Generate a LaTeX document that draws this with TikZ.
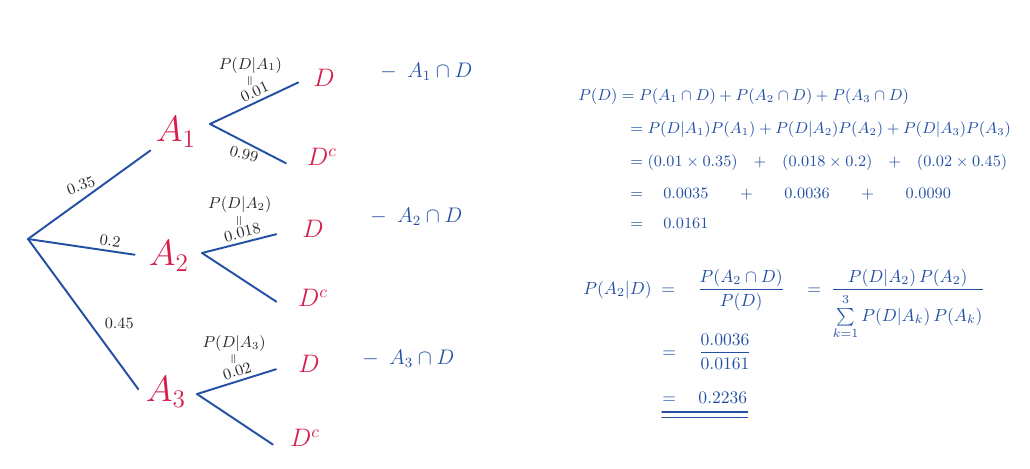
\documentclass[tikz,border=0pt]{standalone}
\usepackage{amsmath, amssymb}
\usetikzlibrary{positioning}

\definecolor{inkblue}{RGB}{35,80,165}
\definecolor{inkred}{RGB}{215,30,75}
\definecolor{inkgrey}{RGB}{40,40,40}

\begin{document}
\begin{tikzpicture}[
        x=0.02cm, y=-0.02cm,
        event/.style={text=inkred, font=\huge, inner sep=3pt},
        outcome/.style={text=inkred, font=\Large, inner sep=3pt},
        branch/.style={draw=inkblue, line width=1.1pt, line cap=round},
        prob/.style={text=inkgrey, font=\small, inner sep=2pt},
        vequal/.style={text=inkgrey, font=\scriptsize, inner sep=2pt},
        inter/.style={text=inkblue, font=\large, anchor=west, inner sep=0pt},
        eqn/.style={text=inkblue, font=\small, anchor=west, inner sep=0pt},
        bayes/.style={text=inkblue, font=\normalsize, anchor=base west, inner sep=0pt}
    ]
    \useasboundingbox (0,0) rectangle (1030,468);

    % First stage
    \coordinate (root) at (28,239);
    \node[event] (A1) at (176,132) {$A_1$};
    \node[event] (A2) at (169,256) {$A_2$};
    \node[event] (A3) at (166,392) {$A_3$};

    % Second stage
    \coordinate (f1) at (210,124);
    \coordinate (f2) at (202,253);
    \coordinate (f3) at (197,394);
    \node[outcome] (D11) at (324,78)  {$D$};
    \node[outcome] (D12) at (322,157) {$D^c$};
    \node[outcome] (D21) at (313,229) {$D$};
    \node[outcome] (D22) at (313,298) {$D^c$};
    \node[outcome] (D31) at (309,364) {$D$};
    \node[outcome] (D32) at (305,438) {$D^c$};

    % Branches
    \draw[branch] (root) -- (A1) node[prob, pos=0.46, above=2pt, rotate=20] {0.35};
    \draw[branch, shorten >=5pt] (root) -- (A2.west) node[prob, pos=0.7, above, sloped] {0.2};
    \draw[branch, shorten >=2pt] (root) -- (A3.west) node[prob, pos=0.55, right=6pt] {0.45};

    \draw[branch, shorten >=6pt] (f1) -- (D11.west) node[prob, pos=0.5, above, sloped] (v1) {0.01};
    \draw[branch, shorten >=10pt] (f1) -- (D12.south west) node[prob, pos=0.4, below=1pt, rotate=-15] {0.99};
    \draw[branch, shorten >=12pt] (f2) -- (D21.west) node[prob, pos=0.45, above, sloped] (v2) {0.018};
    \draw[branch, shorten >=11pt] (f2) -- (D22.south west);
    \draw[branch, shorten >=10pt] (f3) -- (D31.west) node[prob, pos=0.45, above, sloped] (v3) {0.02};
    \draw[branch, shorten >=8pt] (f3) -- (D32.south west);

    % Conditional probabilities
    \node[vequal, above=-4pt of v1] (e1) {\rotatebox{90}{$=$}};
    \node[prob, above=-3pt of e1] (c1) {$P(D|A_1)$};
    \node[vequal, above=-4pt of v2] (e2) {\rotatebox{90}{$=$}};
    \node[prob, above=-3pt of e2] (c2) {$P(D|A_2)$};
    \node[vequal, above=-4pt of v3] (e3) {\rotatebox{90}{$=$}};
    \node[prob, above=-3pt of e3] (c3) {$P(D|A_3)$};

    % Intersections
    \node[inter] (i1) at (380,72)  {$-\enspace A_1\cap D$};
    \node[inter] (i2) at (370,217) {$-\enspace A_2\cap D$};
    \node[inter] (i3) at (362,359) {$-\enspace A_3\cap D$};

    % Total probability
    \node[eqn] (l1) at (578,97)  {$P(D) = P(A_1\cap D) + P(A_2\cap D) + P(A_3\cap D)$};
    \node[eqn] (l2) at (630,130) {$= P(D|A_1)P(A_1) + P(D|A_2)P(A_2) + P(D|A_3)P(A_3)$};
    \node[eqn] (l3) at (630,163) {$= (0.01\times 0.35) \hspace{7pt}+\hspace{7pt} (0.018\times 0.2) \hspace{7pt}+\hspace{7pt} (0.02\times 0.45)$};
    \node[eqn] (l4) at (630,194) {$= \quad 0.0035 \hspace{16pt}+\hspace{16pt} 0.0036 \hspace{16pt}+\hspace{16pt} 0.0090$};
    \node[eqn] (l5) at (630,223) {$= \quad 0.0161$};

    % Bayes
    \node[bayes] (b1) at (583,294) {$P(A_2|D) \;=\quad \dfrac{P(A_2\cap D)}{P(D)} \quad=\; \dfrac{P(D|A_2)\,P(A_2)}{\sum\limits_{k=1}^{\vphantom{(}3} P(D|A_k)\,P(A_k)}$};
    \node[bayes] (b2) at (662,357) {$= \quad \dfrac{0.0036}{0.0161}$};
    \node[bayes] (b3) at (662,403) {$= \quad 0.2236$};
    \draw[branch, line width=0.8pt] ([yshift=-5pt]b3.south west) -- ([yshift=-5pt]b3.south east);
    \draw[branch, line width=0.8pt] ([yshift=-8pt]b3.south west) -- ([yshift=-8pt]b3.south east);
\end{tikzpicture}
\end{document}
